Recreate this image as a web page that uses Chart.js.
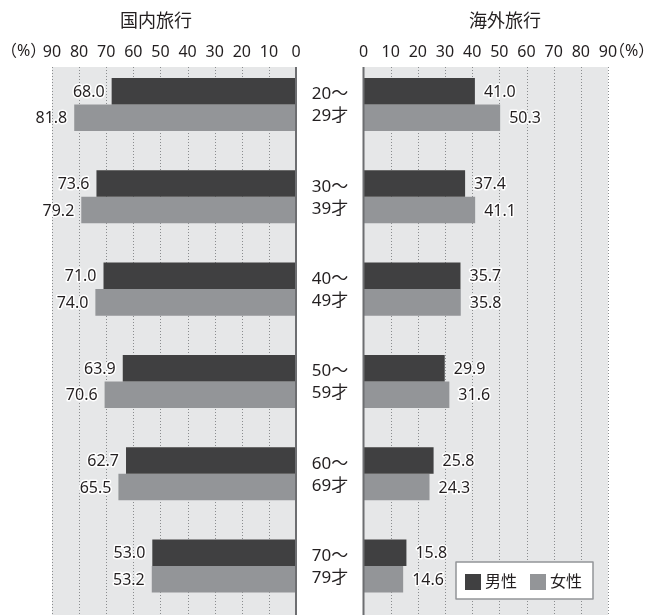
<!DOCTYPE html>
<html lang="ja">
<head>
<meta charset="utf-8">
<title>国内旅行・海外旅行</title>
<script src="https://cdn.jsdelivr.net/npm/chart.js@4.4.0/dist/chart.umd.min.js"></script>
<style>
  html, body { margin: 0; padding: 0; background: #ffffff; }
  #wrap { position: relative; width: 649px; height: 615px; overflow: hidden; }
  #wrap canvas { position: absolute; left: 0; top: 0; }
</style>
</head>
<body>
<div id="wrap">
  <canvas id="domestic" width="649" height="615"></canvas>
  <canvas id="overseas" width="649" height="615"></canvas>
</div>
<script>
// Age groups (two-line labels)
const ageGroups = [
  ['20～', '29才'],
  ['30～', '39才'],
  ['40～', '49才'],
  ['50～', '59才'],
  ['60～', '69才'],
  ['70～', '79才']
];
const seriesNames = ['男性', '女性'];

// 国内旅行 (%)
const domesticMale   = [68.0, 73.6, 71.0, 63.9, 62.7, 53.0];
const domesticFemale = [81.8, 79.2, 74.0, 70.6, 65.5, 53.2];

// 海外旅行 (%)
const overseasMale   = [41.0, 37.4, 35.7, 29.9, 25.8, 15.8];
const overseasFemale = [50.3, 41.1, 35.8, 31.6, 24.3, 14.6];

// Axis range
const axisMin = 0;
const axisMax = 90;
const axisStep = 10;

const FONT = '"Noto Sans", "Noto Sans CJK JP", sans-serif';
const TEXT_COLOR = '#231f20';
const MALE_COLOR = '#404041';
const FEMALE_COLOR = '#939598';
const PANEL_BG = '#e6e7e8';
const GRID_COLOR = '#8a8c8e';
const AXIS_COLOR = '#6d6e71';
const PANEL_TOP = 67;

Chart.defaults.font.family = FONT;
Chart.defaults.color = TEXT_COLOR;

// Panel background, dotted grid, zero line, value labels and captions
const panelPlugin = {
  id: 'panel',
  beforeDatasetsDraw(chart, args, opts) {
    const { ctx, chartArea } = chart;
    const xs = chart.scales.x;
    const bottom = chart.height;
    ctx.save();
    ctx.fillStyle = PANEL_BG;
    ctx.fillRect(chartArea.left, PANEL_TOP, chartArea.right - chartArea.left, bottom - PANEL_TOP);
    ctx.strokeStyle = GRID_COLOR;
    ctx.lineWidth = 1;
    ctx.setLineDash([1, 2]);
    xs.ticks.forEach(t => {
      if (t.value === 0) return;
      const x = Math.round(xs.getPixelForValue(t.value)) + 0.5;
      ctx.beginPath();
      ctx.moveTo(x, PANEL_TOP);
      ctx.lineTo(x, bottom);
      ctx.stroke();
    });
    ctx.restore();
  },
  afterDatasetsDraw(chart, args, opts) {
    const { ctx } = chart;
    const xs = chart.scales.x;
    const ys = chart.scales.y;
    const bottom = chart.height;
    ctx.save();

    // zero line
    const x0 = xs.getPixelForValue(0);
    ctx.strokeStyle = AXIS_COLOR;
    ctx.lineWidth = 2;
    ctx.beginPath();
    ctx.moveTo(x0, PANEL_TOP);
    ctx.lineTo(x0, bottom);
    ctx.stroke();

    // value labels with white halo
    ctx.font = '16px ' + FONT;
    ctx.textBaseline = 'middle';
    ctx.lineJoin = 'round';
    chart.data.datasets.forEach((ds, di) => {
      const meta = chart.getDatasetMeta(di);
      meta.data.forEach((bar, i) => {
        const txt = ds.data[i].toFixed(1);
        let x;
        if (opts.side === 'left') {
          ctx.textAlign = 'right';
          x = bar.x - 7;
        } else {
          ctx.textAlign = 'left';
          x = bar.x + 9;
        }
        const y = bar.y + 1;
        ctx.strokeStyle = '#ffffff';
        ctx.lineWidth = 3;
        ctx.strokeText(txt, x, y);
        ctx.fillStyle = TEXT_COLOR;
        ctx.fillText(txt, x, y);
      });
    });

    // title
    ctx.font = '18px ' + FONT;
    ctx.textAlign = 'center';
    ctx.fillStyle = TEXT_COLOR;
    ctx.fillText(opts.title, opts.titleX, 22);

    // unit label
    ctx.font = '16px ' + FONT;
    if (opts.side === 'left') {
      ctx.textAlign = 'left';
      ctx.fillText('（%）', 1, 51);
    } else {
      ctx.textAlign = 'left';
      ctx.fillText('（%）', xs.right + 1, 51);
    }

    if (opts.side === 'right') {
      // age group labels in the centre gutter
      ctx.font = '17px ' + FONT;
      ctx.textAlign = 'center';
      ageGroups.forEach((lines, i) => {
        const cy = ys.getPixelForValue(i);
        ctx.fillText(lines[0], 330, cy - 10);
        ctx.fillText(lines[1], 330, cy + 12);
      });

      // legend
      const lx = 456, ly = 562, lw = 137, lh = 37;
      ctx.fillStyle = '#ffffff';
      ctx.fillRect(lx, ly, lw, lh);
      ctx.strokeStyle = '#939598';
      ctx.lineWidth = 1.5;
      ctx.strokeRect(lx, ly, lw, lh);
      ctx.font = '16px ' + FONT;
      ctx.textAlign = 'left';
      const items = chart.data.datasets;
      const positions = [465, 530];
      items.forEach((ds, i) => {
        ctx.fillStyle = ds.backgroundColor;
        ctx.fillRect(positions[i], 574, 16, 16);
        ctx.fillStyle = TEXT_COLOR;
        ctx.fillText(ds.label, positions[i] + 20, 582);
      });
    }
    ctx.restore();
  }
};

function makeChart(canvasId, male, female, side, title, titleX, padding) {
  return new Chart(document.getElementById(canvasId), {
    type: 'bar',
    data: {
      labels: ageGroups,
      datasets: [
        { label: seriesNames[0], data: male, backgroundColor: MALE_COLOR },
        { label: seriesNames[1], data: female, backgroundColor: FEMALE_COLOR }
      ]
    },
    options: {
      indexAxis: 'y',
      responsive: false,
      animation: false,
      devicePixelRatio: 1,
      layout: { padding },
      datasets: {
        bar: { barPercentage: 1, categoryPercentage: 0.575, borderWidth: 0 }
      },
      scales: {
        x: {
          position: 'top',
          reverse: side === 'left',
          min: axisMin,
          max: axisMax,
          grid: { display: false, drawTicks: false },
          border: { display: false },
          ticks: {
            stepSize: axisStep,
            autoSkip: false,
            maxRotation: 0,
            padding: -4,
            color: TEXT_COLOR,
            font: { size: 16, family: FONT }
          },
          afterFit(scale) { scale.height = 26; }
        },
        y: { display: false }
      },
      plugins: {
        legend: { display: false },
        tooltip: { enabled: false },
        title: { display: false },
        panel: { side, title, titleX }
      }
    },
    plugins: [panelPlugin]
  });
}

makeChart('domestic', domesticMale, domesticFemale, 'left', '国内旅行', 156,
  { left: 52, right: 353, top: 32.35, bottom: 2.8 });
makeChart('overseas', overseasMale, overseasFemale, 'right', '海外旅行', 505,
  { left: 363.5, right: 41, top: 32.35, bottom: 2.8 });
</script>
</body>
</html>
